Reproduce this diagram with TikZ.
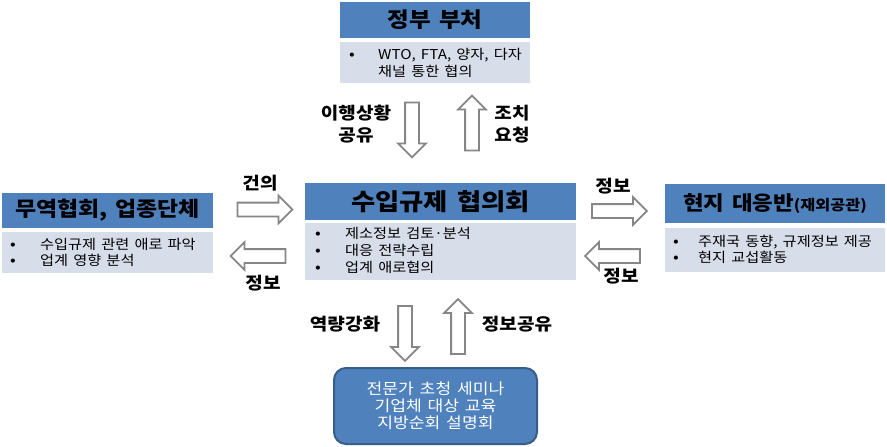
\documentclass[tikz,border=0pt]{standalone}
\usepackage{fontspec}
\setmainfont{Noto Sans CJK KR}[FakeStretch=1.12, WordSpace=1.5]
\usetikzlibrary{shapes.arrows}
\definecolor{tblue}{RGB}{79,129,189}
\definecolor{tdark}{RGB}{56,93,138}
\definecolor{tlight}{RGB}{216,221,234}
\definecolor{agray}{RGB}{134,134,134}
\newcommand{\mybullet}{{\fontsize{15}{10}\selectfont •}}
\begin{document}
\begin{tikzpicture}[x=1pt,y=-1pt,
  titlebar/.style={fill=tblue, draw=none, inner sep=0pt, font=\bfseries\fontsize{20.5}{24}\selectfont},
  bodybox/.style={fill=tlight, draw=none, inner sep=0pt},
  listtext/.style={anchor=west, inner sep=0pt, font=\fontsize{13.6}{17}\selectfont},
  blockarrow/.style={single arrow, draw=agray, line width=1.8pt, fill=white, inner sep=6pt, minimum height=55pt, single arrow head extend=7pt},
  lbl/.style={inner sep=0pt, align=center, font=\bfseries\fontsize{17}{22}\selectfont}
]
\useasboundingbox (0,0) rectangle (887,447);

% top box
\node[titlebar, minimum width=190pt, minimum height=36pt, font=\bfseries\fontsize{21}{24}\selectfont] (gov) at (435,20) {정부 부처};
\node[bodybox, minimum width=190pt, minimum height=41pt] (govbody) at (435,62.5) {};
\node[listtext] (govtext) at (349,65) {\begin{tabular}{@{}p{29pt}@{}l@{}}\mybullet & WTO, FTA, 양자, 다자\\ & 채널 통한 협의\end{tabular}};

% center box
\node[titlebar, minimum width=271pt, minimum height=37pt, font=\bfseries\fontsize{23.5}{26}\selectfont] (council) at (440.5,201.5) {수입규제 협의회};
\node[bodybox, minimum width=271pt, minimum height=57pt] (councilbody) at (440.5,251.5) {};
\node[listtext] (counciltext) at (315,251.6) {\begin{tabular}{@{}p{30pt}@{}l@{}}\mybullet & 제소정보 검토·분석\\ \mybullet & 대응 전략수립\\ \mybullet & 업계 애로협의\end{tabular}};

% left box
\node[titlebar, minimum width=211pt, minimum height=35pt] (trade) at (107.5,210.5) {무역협회, 업종단체};
\node[bodybox, minimum width=211pt, minimum height=41pt] (tradebody) at (107.5,252.5) {};
\node[listtext, font=\fontsize{13.6}{16}\selectfont] (tradetext) at (10,254) {\begin{tabular}{@{}p{30pt}@{}l@{}}\mybullet & 수입규제 관련 애로 파악\\ \mybullet & 업계 영향 분석\end{tabular}};

% right box
\node[titlebar, minimum width=220pt, minimum height=39pt, font=\bfseries\fontsize{20}{24}\selectfont] (local) at (775,203.5) {현지 대응반{\fontsize{14.5}{18}\selectfont(재외공관)}};
\node[bodybox, minimum width=220pt, minimum height=44pt] (localbody) at (775,250) {};
\node[listtext, font=\fontsize{13.6}{16}\selectfont] (localtext) at (673,251.5) {\begin{tabular}{@{}p{25pt}@{}l@{}}\mybullet & 주재국 동향, 규제정보 제공\\ \mybullet & 현지 교섭활동\end{tabular}};

% bottom box
\node[fill=tblue, draw=tdark, line width=2pt, rounded corners=12pt, minimum width=203pt, minimum height=76pt, text=white, align=center, inner sep=0pt, font=\fontsize{15.3}{17}\selectfont] (edu) at (435.5,406) {전문가 초청 세미나\\기업체 대상 교육\\지방순회 설명회};

% arrows top
\node[blockarrow, shape border rotate=270] (a1) at (412,126.5) {};
\node[blockarrow, shape border rotate=90] (a2) at (472,126.5) {};
\node[lbl] (l1) at (356,124) {이행상황\\공유};
\node[lbl] (l2) at (512,124) {조치\\요청};

% arrows left
\node[blockarrow, shape border rotate=0] (a3) at (261.5,209.5) {};
\node[blockarrow, shape border rotate=180] (a4) at (261.5,256) {};
\node[lbl] (l3) at (260,183) {건의};
\node[lbl] (l4) at (263,283) {정보};

% arrows right
\node[blockarrow, shape border rotate=0] (a5) at (616,211) {};
\node[blockarrow, shape border rotate=180] (a6) at (616,256) {};
\node[lbl] (l5) at (613,186) {정보};
\node[lbl] (l6) at (621,276) {정보};

% arrows bottom
\node[blockarrow, shape border rotate=270] (a7) at (405,330) {};
\node[blockarrow, shape border rotate=90] (a8) at (458,330) {};
\node[lbl] (l7) at (345,324) {역량강화};
\node[lbl] (l8) at (517,324) {정보공유};
\end{tikzpicture}
\end{document}
